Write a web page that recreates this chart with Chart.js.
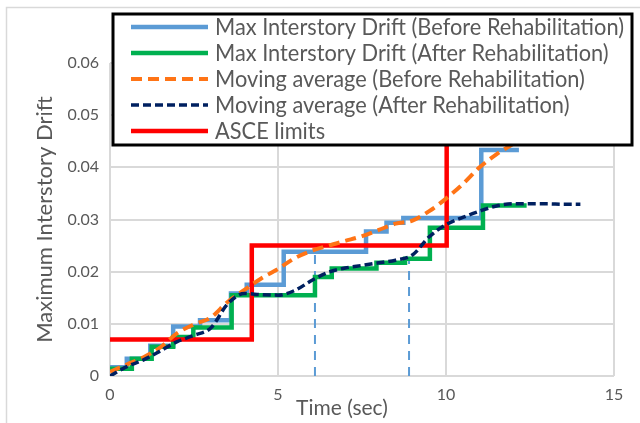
<!DOCTYPE html>
<html>
<head>
<meta charset="utf-8">
<title>Maximum Interstory Drift</title>
<script src="https://cdn.jsdelivr.net/npm/chart.js@4.4.1/dist/chart.umd.min.js"></script>
<style>
  html, body { margin: 0; padding: 0; background: #fff; }
  #wrap { position: relative; width: 640px; height: 423px; }
</style>
</head>
<body>
<div id="wrap"><canvas id="chartDrift"></canvas></div>
<script>
// step series: time where each level starts + drift level
const timeBefore = [0, 0.5, 1.2, 1.88, 2.68, 3.6, 4.07, 5.17, 7.62, 8.23, 8.73, 11.05, 12.17];
const driftBefore = [0.0017, 0.0033, 0.0058, 0.0095, 0.0107, 0.0158, 0.0175, 0.0238, 0.0277, 0.0294, 0.0303, 0.0433, 0.0433];
const timeAfter = [0, 0.65, 1.24, 1.88, 2.48, 3.62, 6.1, 6.6, 7.93, 8.78, 9.52, 11.1, 12.4];
const driftAfter = [0.0014, 0.0033, 0.0056, 0.0075, 0.0093, 0.0155, 0.019, 0.0206, 0.0217, 0.0225, 0.0284, 0.0327, 0.0327];

// moving averages
const avgTime = [0, 0.5, 1, 1.5, 2, 2.5, 3, 3.5, 4, 4.5, 5, 5.5, 6, 6.5, 7, 7.5, 8, 8.5, 9, 9.5, 10, 10.5, 11, 11.5, 12, 12.5, 13, 13.5, 14];
const avgBefore = [0.0008, 0.0022, 0.0036, 0.0055, 0.0082, 0.0099, 0.0112, 0.0142, 0.0165, 0.0187, 0.0205, 0.0226, 0.0240, 0.0250, 0.0259, 0.0268, 0.0280, 0.0292, 0.0298, 0.0316, 0.0340, 0.0368, 0.0400, 0.0425, 0.0445];
const avgAfter = [0, 0.0018, 0.0031, 0.0048, 0.0066, 0.0078, 0.0092, 0.0138, 0.0158, 0.0156, 0.0155, 0.0164, 0.0183, 0.0199, 0.0207, 0.0212, 0.0217, 0.0222, 0.0232, 0.0267, 0.0290, 0.0304, 0.0316, 0.0326, 0.0330, 0.0330, 0.0330, 0.0329, 0.0329];

// ASCE limits (IO / LS / CP)
const limitTime = [0, 4.22, 10.02, 14];
const limitDrift = [0.007, 0.025, 0.05, 0.05];

// dashed marker lines
const markTime = [6.1, 8.9];
const markTop = [0.0236, 0.0222];

const xTicks = [0, 5, 10, 15];
const yTicks = [0, 0.01, 0.02, 0.03, 0.04, 0.05, 0.06];

const colorBefore = "#5B9BD5";
const colorAfter = "#00B050";
const colorAvgBefore = "#FF7416";
const colorAvgAfter = "#002060";
const colorLimit = "#FF0000";
const textGray = "#595959";
const FONT = "Lato";

const pts = (xs, ys) => ys.map((y, i) => ({ x: xs[i], y: y }));

const legendItems = [
    { text: "Max Interstory Drift (Before Rehabilitation)", color: colorBefore, width: 4.5, dash: [] },
    { text: "Max Interstory Drift (After Rehabilitation)", color: colorAfter, width: 4.5, dash: [] },
    { text: "Moving average (Before Rehabilitation)", color: colorAvgBefore, width: 4, dash: [11, 6] },
    { text: "Moving average (After Rehabilitation)", color: colorAvgAfter, width: 3.5, dash: [8, 4] },
    { text: "ASCE limits", color: colorLimit, width: 4.5, dash: [] }
];

// frame, legend box and x title drawn by hand
const extrasPlugin = {
    id: "extras",
    beforeDraw(chart) {
        const ctx = chart.ctx;
        ctx.save();
        ctx.strokeStyle = "#D9D9D9";
        ctx.lineWidth = 1.5;
        ctx.strokeRect(6.5, 7.5, 700, 500);
        ctx.restore();
    },
    afterDraw(chart) {
        const ctx = chart.ctx;
        ctx.save();
        // legend
        ctx.fillStyle = "#fff";
        ctx.fillRect(113, 14, 519, 131);
        ctx.strokeStyle = "#000";
        ctx.lineWidth = 3;
        ctx.strokeRect(113, 14, 519, 131);

        ctx.font = "23px " + FONT;
        const longest = ctx.measureText(legendItems[0].text).width;
        const sx = Math.min(1, 409 / longest);
        legendItems.forEach((it, i) => {
            const y = 27 + i * 26;
            ctx.strokeStyle = it.color;
            ctx.lineWidth = it.width;
            ctx.setLineDash(it.dash);
            ctx.lineCap = "butt";
            ctx.beginPath();
            ctx.moveTo(131, y);
            ctx.lineTo(208, y);
            ctx.stroke();
            ctx.setLineDash([]);

            ctx.save();
            ctx.translate(215, y);
            ctx.scale(sx, 1);
            ctx.fillStyle = textGray;
            ctx.textBaseline = "middle";
            ctx.textAlign = "left";
            ctx.fillText(it.text, 0, 1);
            ctx.restore();
        });

        // x axis title (sits left of centre in the original)
        ctx.font = "21px " + FONT;
        ctx.fillStyle = textGray;
        ctx.textAlign = "center";
        ctx.textBaseline = "middle";
        ctx.fillText("Time (sec)", 342, 408);
        ctx.restore();
    }
};

const stepStyle = (label, color, data) => ({
    label: label, data: data, borderColor: color, backgroundColor: color,
    borderWidth: 4.5, stepped: true, pointRadius: 0, fill: false
});

const datasets = [
    {
        label: "Moving average (After Rehabilitation)",
        data: pts(avgTime, avgAfter),
        borderColor: colorAvgAfter, borderWidth: 3.5, borderDash: [8, 4],
        cubicInterpolationMode: "monotone", pointRadius: 0, fill: false
    },
    {
        label: "Moving average (Before Rehabilitation)",
        data: pts(avgTime, avgBefore),
        borderColor: colorAvgBefore, borderWidth: 4, borderDash: [11, 6],
        cubicInterpolationMode: "monotone", pointRadius: 0, fill: false
    },
    stepStyle("ASCE limits", colorLimit, pts(limitTime, limitDrift)),
    stepStyle("Max Interstory Drift (After Rehabilitation)", colorAfter, pts(timeAfter, driftAfter)),
    stepStyle("Max Interstory Drift (Before Rehabilitation)", colorBefore, pts(timeBefore, driftBefore))
];

markTime.forEach((t, i) => {
    datasets.push({
        label: "marker " + (i + 1),
        data: [{ x: t, y: 0 }, { x: t, y: markTop[i] }],
        borderColor: colorBefore, borderWidth: 2, borderDash: [9, 7],
        pointRadius: 0, fill: false
    });
});

new Chart(document.getElementById("chartDrift"), {
    type: "line",
    data: { datasets: datasets },
    options: {
        responsive: true,
        maintainAspectRatio: false,
        animation: false,
        events: [],
        layout: { padding: { top: 63, right: 26, left: 0, bottom: 0 } },
        plugins: { legend: { display: false }, tooltip: { enabled: false } },
        scales: {
            x: {
                type: "linear", min: 0, max: 15,
                afterBuildTicks: (s) => { s.ticks = xTicks.map(v => ({ value: v })); },
                afterFit: (s) => { s.height = 47; },
                grid: { color: "#D9D9D9", lineWidth: 2, drawTicks: false },
                border: { display: false },
                ticks: { padding: 9, color: textGray, font: { family: FONT, size: 16 } }
            },
            y: {
                type: "linear", min: 0, max: 0.06,
                afterBuildTicks: (s) => { s.ticks = yTicks.map(v => ({ value: v })); },
                afterFit: (s) => { s.width = 110; },
                grid: { color: "#D9D9D9", lineWidth: 2, drawTicks: false },
                border: { display: false },
                ticks: {
                    padding: 11, color: textGray, font: { family: FONT, size: 16 },
                    callback: (v) => String(Math.round(v * 100) / 100)
                },
                title: {
                    display: true, text: "Maximum Interstory Drift", color: textGray,
                    font: { family: FONT, size: 22 }, padding: { top: 32, bottom: 0 }
                }
            }
        }
    },
    plugins: [extrasPlugin]
});
</script>
</body>
</html>
